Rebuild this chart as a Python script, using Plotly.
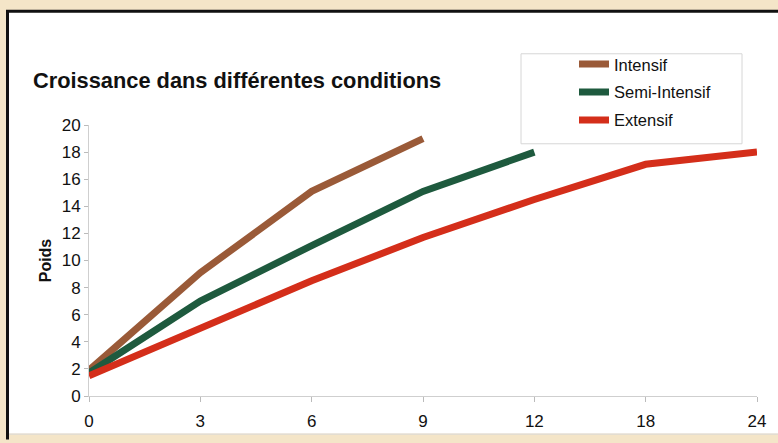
import plotly.graph_objects as go

# ---- data ----
months = ["0", "3", "6", "9", "12", "18", "24"]
intensif = [1.9, 9.1, 15.1, 19.0]
semi_intensif = [1.7, 7.0, 11.1, 15.1, 18.0]
extensif = [1.5, 5.0, 8.5, 11.7, 14.5, 17.1, 18.0]

title_text = "Croissance dans différentes conditions"
y_title = "Poids"
y_ticks = [0, 2, 4, 6, 8, 10, 12, 14, 16, 18, 20]

W, H = 778, 443
L, R, T, B = 89, 21, 125, 44
PW, PH = W - L - R, H - T - B

def px(x):
    return (x - L) / PW

def py(y):
    return (H - B - y) / PH

FONT = "Liberation Sans, Arial, sans-serif"

fig = go.Figure()
series = [
    ("Intensif", intensif, "#9a5a38"),
    ("Semi-Intensif", semi_intensif, "#1e5a3e"),
    ("Extensif", extensif, "#d42e1a"),
]
for name, vals, col in series:
    fig.add_trace(go.Scatter(
        x=months[:len(vals)], y=vals, name=name, mode="lines",
        line=dict(color=col, width=7), legendgroup=name,
    ))

shapes = [
    dict(type="rect", xref="paper", yref="paper", x0=px(8), x1=px(790), y0=py(437), y1=py(11),
         fillcolor="white", line=dict(width=0), layer="below"),
    dict(type="line", xref="paper", yref="paper", x0=px(6), x1=px(790), y0=py(10), y1=py(10),
         line=dict(color="#111111", width=3), layer="below"),
    dict(type="line", xref="paper", yref="paper", x0=px(7.5), x1=px(7.5), y0=py(443), y1=py(9),
         line=dict(color="#111111", width=3), layer="below"),
    dict(type="line", xref="paper", yref="paper", x0=px(9), x1=px(790), y0=py(437.5), y1=py(437.5),
         line=dict(color="#d8d8d8", width=1), layer="below"),
    # legend box
    dict(type="rect", xref="paper", yref="paper", x0=px(521), x1=px(742), y0=py(144), y1=py(53),
         fillcolor="rgba(0,0,0,0)", line=dict(color="#d6d6d6", width=1)),
]

fig.update_layout(
    width=W, height=H,
    margin=dict(l=L, r=R, t=T, b=B),
    paper_bgcolor="#f4e5c8",
    plot_bgcolor="rgba(0,0,0,0)",
    font=dict(family=FONT, color="#111111"),
    title=dict(text="<b>" + title_text + "</b>", x=33 / W, xanchor="left",
               y=1 - 80 / H, yanchor="middle", font=dict(size=21.8, family=FONT, color="#111111")),
    showlegend=True,
    legend=dict(x=px(574), y=py(46), xanchor="left", yanchor="top",
                bgcolor="rgba(0,0,0,0)", borderwidth=0, font=dict(size=16.5, family=FONT),
                tracegroupgap=3.5, itemclick=False),
    shapes=shapes,
    xaxis=dict(type="category", categoryorder="array", categoryarray=months,
               range=[0, 6], showgrid=False, zeroline=False,
               showline=True, linecolor="#cfcfcf", linewidth=1,
               ticks="outside", ticklen=5, tickcolor="#bbbbbb",
               tickfont=dict(size=17, family=FONT, color="#111111"), ticklabelstandoff=5),
    yaxis=dict(range=[0, 20], tickvals=y_ticks, showgrid=False, zeroline=False,
               showline=True, linecolor="#cfcfcf", linewidth=1,
               ticks="outside", ticklen=4, tickcolor="#bbbbbb",
               tickfont=dict(size=17, family=FONT, color="#111111"),
               title=dict(text="<b>" + y_title + "</b>", font=dict(size=16, family=FONT), standoff=6)),
)

fig.write_html(
    "out.html",
    config={"displayModeBar": False},
    post_script="document.body.style.margin='0';document.body.style.overflow='hidden';",
)
